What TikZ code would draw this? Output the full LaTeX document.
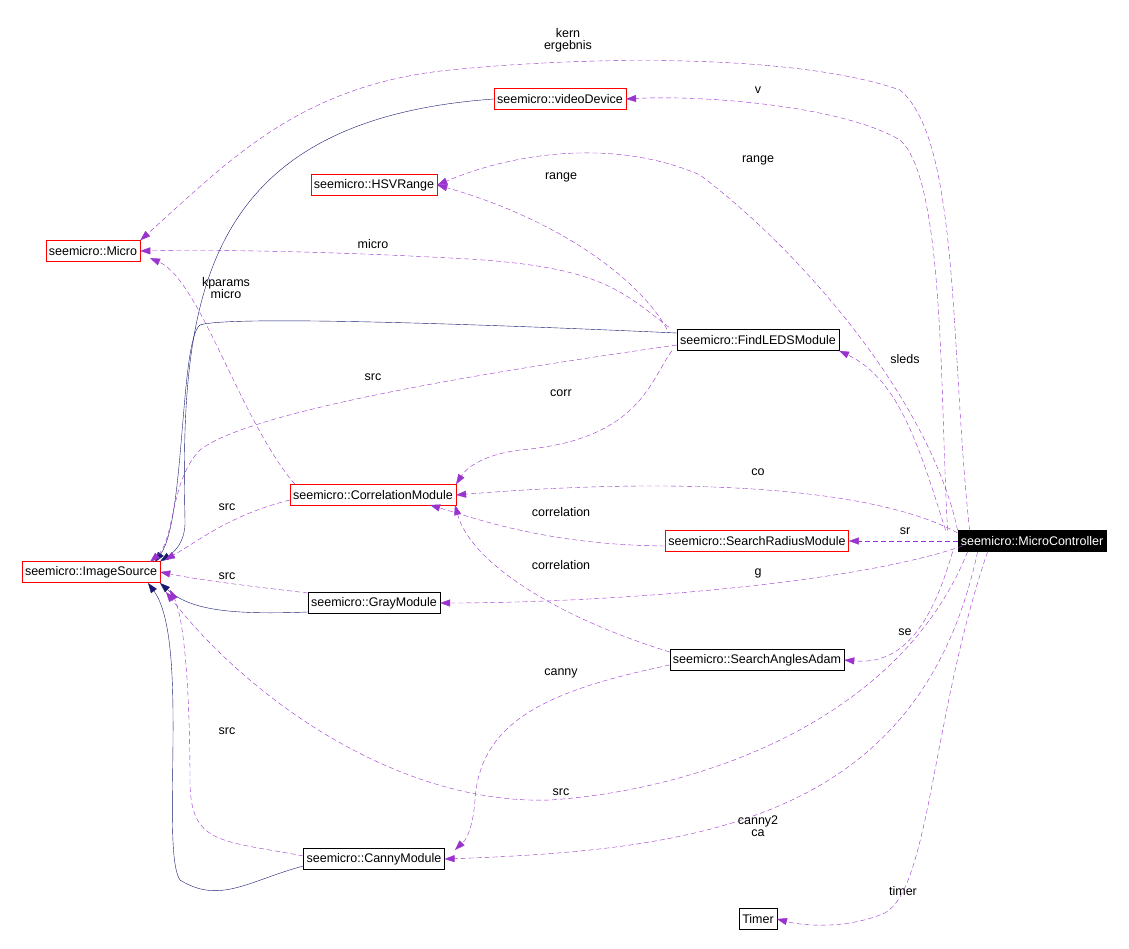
\documentclass[tikz,border=0pt]{standalone}
\usepackage{fontspec}
\setmainfont{Liberation Sans}
\usetikzlibrary{arrows.meta}
\definecolor{dpurp}{RGB}{154,50,205}
\definecolor{navy}{RGB}{25,25,112}
\begin{document}
\begin{tikzpicture}[x=1pt,y=-1pt,
  bbox/.style={draw=black,fill=white,inner sep=3pt,minimum height=21pt,font=\fontsize{12.5}{14}\selectfont},
  rbox/.style={bbox,draw=red},
  dep/.style={draw=dpurp,dash pattern=on 5pt off 3pt,-{Triangle[length=10pt,width=7pt]}},
  inh/.style={draw=navy,-{Triangle[length=10pt,width=7pt]}},
  lab/.style={font=\fontsize{12.5}{14}\selectfont,align=center}]
\useasboundingbox (0,0) rectangle (1129,949);
% nodes
\node[rbox] (vd) at (560,99) {seemicro::videoDevice};
\node[rbox] (hsv) at (374,185) {seemicro::HSVRange};
\node[rbox] (mi) at (93,251) {seemicro::Micro};
\node[bbox] (fl) at (758,340) {seemicro::FindLEDSModule};
\node[rbox] (co) at (373,495) {seemicro::CorrelationModule};
\node[rbox] (sr) at (757,541) {seemicro::SearchRadiusModule};
\node[bbox,fill=black,text=white] (mc) at (1032,541) {seemicro::MicroController};
\node[rbox] (is) at (91,572) {seemicro::ImageSource};
\node[bbox] (gm) at (374,603) {seemicro::GrayModule};
\node[bbox] (sa) at (757,660) {seemicro::SearchAnglesAdam};
\node[bbox] (cm) at (374,859) {seemicro::CannyModule};
\node[bbox] (ti) at (758,919) {Timer};
% solid lines
\draw[inh] (vd.west) .. controls (200,120) and (180,300) .. (185,520) .. controls (186,545) and (170,555) .. (is.north east);
\draw[inh] (fl.west) ++(0,-7) .. controls (500,325) and (230,315) .. (200,325) .. controls (180,340) and (185,520) .. (155,562);
\draw[inh] (gm.west) ++(0,9) .. controls (230,615) and (190,610) .. (160,583);
\draw[inh] (cm.west) ++(0,7) .. controls (250,880) and (220,905) .. (180,880) .. controls (160,850) and (190,640) .. (148,583);
% dependencies
\draw[dep] (mc.north west) ++(-10,0) .. controls (940,400) and (945,180) .. (900,140) .. controls (840,105) and (700,95) .. (vd.east);
\draw[dep] (mc.north west) .. controls (930,400) and (800,250) .. (700,175) .. controls (620,140) and (520,150) .. (hsv.east);
\draw[dep] (fl.north west) ++(-10,0) .. controls (640,280) and (560,220) .. (hsv.east);
\draw[dep] (fl.north west) ++(-8,-2) .. controls (620,290) and (600,265) .. (450,258) .. controls (300,250) and (200,250) .. (mi.east);
\draw[dep] (mc.north west) ++(12,0) .. controls (950,350) and (960,140) .. (900,90) .. controls (800,55) and (600,55) .. (450,70) .. controls (300,85) and (230,160) .. (mi.north east);
\draw[dep] (co.north west) ++(5,0) .. controls (240,420) and (200,280) .. (150,258);
\draw[dep] (mc.north west) ++(-12,0) .. controls (920,450) and (900,380) .. (fl.south east);
\draw[dep] (fl.west) ++(0,5) .. controls (500,370) and (250,410) .. (200,450) .. controls (170,480) and (175,540) .. (150,562);
\draw[dep] (fl.south west) ++(-5,0) .. controls (650,380) and (640,440) .. (520,450) .. controls (480,455) and (465,470) .. (co.north east);
\draw[dep] (mc.west) ++(0,-8) .. controls (880,490) and (700,475) .. (co.east);
\draw[dep] (sr.west) ++(0,5) .. controls (550,545) and (480,520) .. (430,505);
\draw[dep] (sa.west) ++(0,-8) .. controls (550,615) and (470,560) .. (455,505);
\draw[dep] (co.west) ++(0,5) .. controls (230,515) and (200,540) .. (165,560);
\draw[dep] (mc.west) -- (sr.east);
\draw[dep] (mc.west) ++(5,5) .. controls (850,585) and (600,603) .. (gm.east);
\draw[dep] (gm.west) ++(0,-10) .. controls (240,585) and (200,580) .. (is.east);
\draw[dep] (mc.south west) ++(-5,0) .. controls (930,630) and (900,665) .. (sa.east);
\draw[dep] (sa.west) ++(0,5) .. controls (550,690) and (480,720) .. (475,800) .. controls (472,840) and (460,845) .. (455,850);
\draw[dep] (mc.south west) ++(10,0) .. controls (900,720) and (700,790) .. (550,800) .. controls (400,805) and (250,700) .. (166,592);
\draw[dep] (cm.west) ++(0,-3) .. controls (220,840) and (190,845) .. (190,780) .. controls (190,700) and (185,620) .. (170,590);
\draw[dep] (mc.south west) ++(20,0) .. controls (920,820) and (700,850) .. (cm.east);
\draw[dep] (mc.south west) ++(30,0) .. controls (930,720) and (930,900) .. (880,915) .. controls (840,930) and (800,925) .. (ti.east);
% labels
\node[lab] at (568,40) {kern\\[-2pt]ergebnis};
\node[lab] at (758,90) {v};
\node[lab] at (758,160) {range};
\node[lab] at (561,177) {range};
\node[lab] at (373,244) {micro};
\node[lab] at (226,288) {kparams\\[-2pt]micro};
\node[lab] at (905,359) {sleds};
\node[lab] at (373,377) {src};
\node[lab] at (561,393) {corr};
\node[lab] at (758,472) {co};
\node[lab] at (561,512) {correlation};
\node[lab] at (227,507) {src};
\node[lab] at (905,531) {sr};
\node[lab] at (561,565) {correlation};
\node[lab] at (758,573) {g};
\node[lab] at (227,576) {src};
\node[lab] at (905,632) {se};
\node[lab] at (561,673) {canny};
\node[lab] at (227,731) {src};
\node[lab] at (561,792) {src};
\node[lab] at (758,826) {canny2\\[-2pt]ca};
\node[lab] at (903,891) {timer};
\end{tikzpicture}
\end{document}
